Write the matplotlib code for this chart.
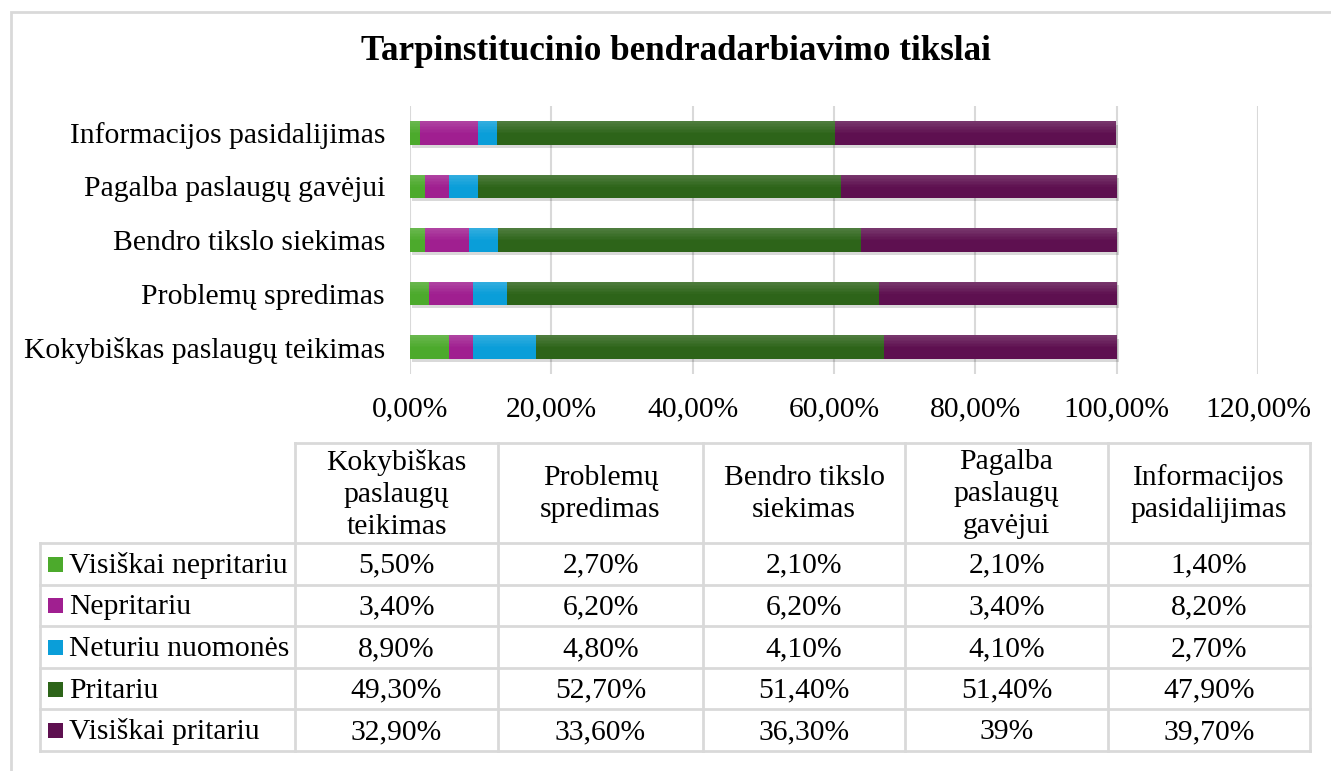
import matplotlib
matplotlib.use("Agg")
import matplotlib.pyplot as plt
from matplotlib.patches import Rectangle
import matplotlib.patheffects as pe
from matplotlib.lines import Line2D

plt.rcParams['font.family'] = ['Liberation Serif', 'DejaVu Serif']

title = "Tarpinstitucinio bendradarbiavimo tikslai"
categories = ["Kokybiškas paslaugų teikimas", "Problemų spredimas", "Bendro tikslo siekimas",
              "Pagalba paslaugų gavėjui", "Informacijos pasidalijimas"]
table_headers = ["Kokybiškas\npaslaugų\nteikimas", "Problemų\nspredimas", "Bendro tikslo\nsiekimas",
                 "Pagalba\npaslaugų\ngavėjui", "Informacijos\npasidalijimas"]
series_names = ["Visiškai nepritariu", "Nepritariu", "Neturiu nuomonės", "Pritariu", "Visiškai pritariu"]
visiskai_nepritariu = [5.5, 2.7, 2.1, 2.1, 1.4]
nepritariu = [3.4, 6.2, 6.2, 3.4, 8.2]
neturiu_nuomones = [8.9, 4.8, 4.1, 4.1, 2.7]
pritariu = [49.3, 52.7, 51.4, 51.4, 47.9]
visiskai_pritariu = [32.9, 33.6, 36.3, 39.0, 39.7]
xticks = [0, 20, 40, 60, 80, 100, 120]

series = [visiskai_nepritariu, nepritariu, neturiu_nuomones, pritariu, visiskai_pritariu]
colors = ["#4CAA2C", "#A01F90", "#0A9ED9", "#2D6419", "#5E1050"]

FS = 21.3
W, H = 1331, 771
fig = plt.figure(figsize=(W / 100, H / 100), dpi=100)

def fx(x):
    return x / W

def fy(y):
    return 1 - y / H

# outer border (left and top visible)
fig.patches.append(Rectangle((fx(10.5), fy(821)), fx(1400), fy(12) - fy(821), transform=fig.transFigure,
                             fill=False, edgecolor="#D9D9D9", linewidth=2))

ax_l, ax_r, ax_t, ax_b = 410, 1258, 106.25, 373.75
ax = fig.add_axes([fx(ax_l), fy(ax_b), fx(ax_r - ax_l), fy(ax_t) - fy(ax_b)])
ypos = list(range(len(categories)))
bh = 0.43
left = [0.0] * len(categories)
nstrip = 8
for vals, col in zip(series, colors):
    bars = ax.barh(ypos, vals, left=left, height=bh, color=col, zorder=3)
    for b in bars:
        b.set_path_effects([pe.SimplePatchShadow(offset=(1.5, -2.5), shadow_rgbFace="#000000", alpha=0.15),
                            pe.Normal()])
    # soft light gradient on the upper part of each bar
    for k in range(nstrip):
        h = bh * 0.5 / nstrip
        yy = [p + bh / 2 - h * (k + 0.5) for p in ypos]
        ax.barh(yy, vals, left=left, height=h, color="white",
                alpha=0.16 * (1 - k / nstrip), zorder=4, linewidth=0)
    left = [l + v for l, v in zip(left, vals)]
ax.set_xlim(0, 120)
ax.set_ylim(-0.5, len(categories) - 0.5)
ax.set_xticks(xticks)
ax.set_xticklabels([f"{t:.2f}".replace(".", ",") + "%" for t in xticks])
ax.set_yticks(ypos)
ax.set_yticklabels(categories)
ax.tick_params(axis="both", length=0, labelsize=FS, colors="black")
ax.tick_params(axis="x", pad=16)
ax.tick_params(axis="y", pad=18)
ax.grid(axis="x", color="#D9D9D9", linewidth=1.5, zorder=0)
for s in ax.spines.values():
    s.set_visible(False)

fig.text(fx(676), fy(52), title, ha="center", va="center", fontsize=25.2, fontweight="bold")

# data table
col_edges = [295, 498, 703, 905, 1108, 1310]
head_top, head_bot = 443, 543
row_edges = [543, 584.6, 626.2, 667.8, 709.4, 751]
gc = "#D9D9D9"

def line(x0, y0, x1, y1):
    fig.add_artist(Line2D([fx(x0), fx(x1)], [fy(y0), fy(y1)], transform=fig.transFigure,
                          color=gc, linewidth=2))

for x in col_edges:
    line(x, head_top, x, row_edges[-1])
line(40, row_edges[0], 40, row_edges[-1])
line(col_edges[0], head_top, col_edges[-1], head_top)
for y in row_edges:
    line(40, y, col_edges[-1], y)

def fmt(v):
    if abs(v - round(v)) < 1e-9:
        return f"{int(round(v))}%"
    return f"{v:.2f}".replace(".", ",") + "%"

for j, h in enumerate(table_headers):
    cx = (col_edges[j] + col_edges[j + 1]) / 2
    fig.text(fx(cx), fy((head_top + head_bot) / 2 + 1), h, ha="center", va="center",
             fontsize=FS, linespacing=1.3)

for i, (name, vals, col) in enumerate(zip(series_names, series, colors)):
    cy = (row_edges[i] + row_edges[i + 1]) / 2
    base = cy + 9
    fig.patches.append(Rectangle((fx(48), fy(cy + 8)), fx(15), fy(cy - 7) - fy(cy + 8),
                                 transform=fig.transFigure, facecolor=col, edgecolor="none"))
    fig.text(fx(69), fy(base), name, ha="left", va="baseline", fontsize=FS)
    for j, v in enumerate(vals):
        cx = (col_edges[j] + col_edges[j + 1]) / 2
        fig.text(fx(cx), fy(base), fmt(v), ha="center", va="baseline", fontsize=FS)

fig.savefig("out.png", dpi=100, facecolor="white")
